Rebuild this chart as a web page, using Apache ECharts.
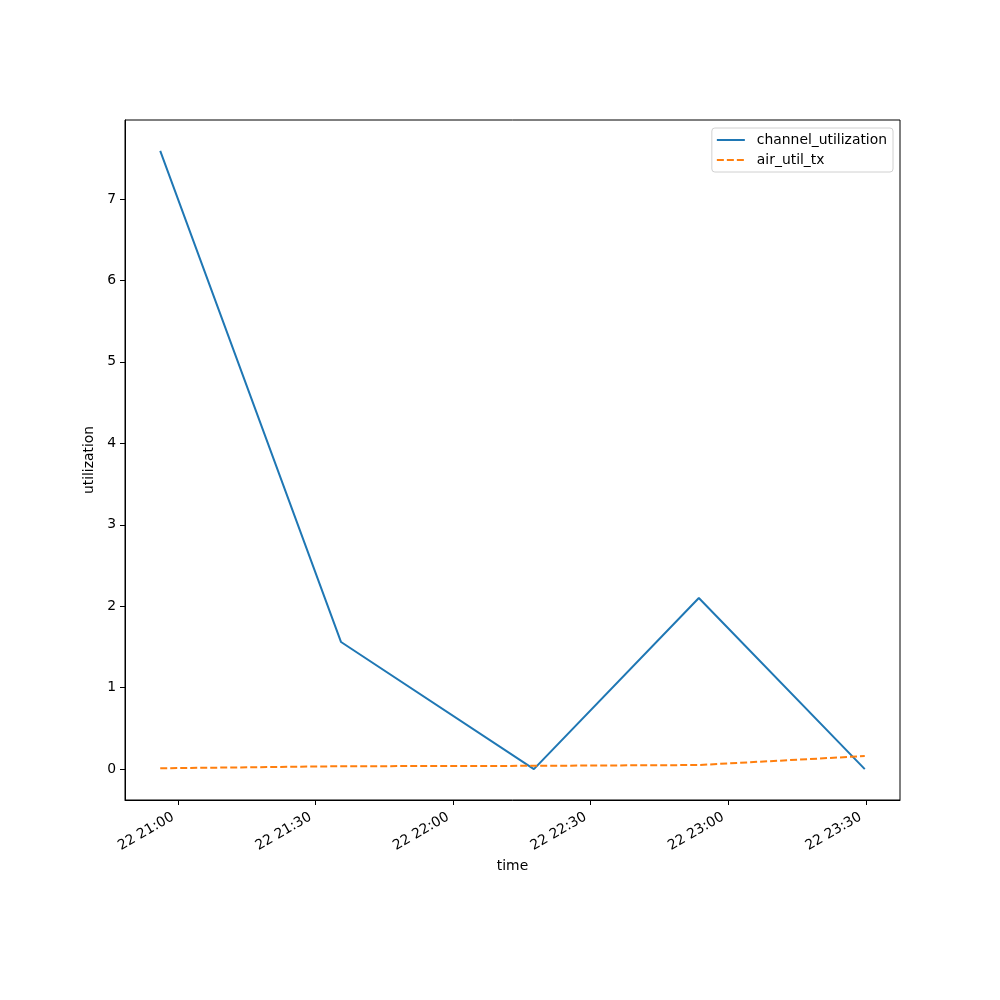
<!DOCTYPE html>
<html>
<head>
<meta charset="utf-8">
<script src="https://cdn.jsdelivr.net/npm/echarts@6/dist/echarts.min.js"></script>
<style>html,body{margin:0;padding:0;background:#fff}#c{width:1000px;height:1000px}</style>
</head>
<body>
<div id="c"></div>
<script>
const times = ['2024-01-22T20:56:05Z','2024-01-22T21:35:32Z','2024-01-22T22:17:36Z','2024-01-22T22:53:35Z','2024-01-22T23:29:47Z'];
const channelUtilization = [7.59, 1.56, 0.0, 2.10, 0.0];
const airUtilTx = [0.01, 0.035, 0.04, 0.05, 0.16];
const yTicks = [0, 1, 2, 3, 4, 5, 6, 7];
const xTicks = ['2024-01-22T21:00:00Z','2024-01-22T21:30:00Z','2024-01-22T22:00:00Z','2024-01-22T22:30:00Z','2024-01-22T23:00:00Z','2024-01-22T23:30:00Z'];

const tMs = times.map(t => Date.parse(t));
const tSpan = tMs[tMs.length-1] - tMs[0];
const xMin = tMs[0] - tSpan*0.05, xMax = tMs[tMs.length-1] + tSpan*0.05;
const allY = channelUtilization.concat(airUtilTx);
const yLo = Math.min(...allY), yHi = Math.max(...allY);
const ySpan = yHi - yLo;
const yMin = yLo - ySpan*0.05, yMax = yHi + ySpan*0.05;

const font = 'DejaVu Sans';
const pad = n => String(n).padStart(2,'0');
const chart = echarts.init(document.getElementById('c'), null, {renderer:'canvas'});
chart.setOption({
  animation: false,
  backgroundColor: '#fff',
  textStyle: {fontFamily: font},
  grid: {left:125, right:100, top:120, bottom:200, show:true, borderColor:'#000', borderWidth:1, backgroundColor:'transparent'},
  legend: {
    right: 107, top: 128, orient: 'vertical',
    backgroundColor:'#fff', borderColor:'#d0d0d0', borderWidth:1, borderRadius:3,
    padding:[5,6,5,4], itemGap: 6, itemWidth: 28, itemHeight: 14,
    itemStyle: {opacity: 0, color: 'transparent', borderWidth: 0},
    textStyle: {fontFamily: font, fontSize: 13.9, color:'#000', padding:[0,0,0,7]},
    data: [{name:'channel_utilization'},{name:'air_util_tx'}]
  },
  xAxis: {
    type: 'value', min: xMin, max: xMax,
    name: 'time', nameLocation: 'middle', nameGap: 58,
    nameTextStyle: {fontFamily: font, fontSize: 13.9, color:'#000'},
    axisLine: {show:true, onZero:false, lineStyle:{color:'#000', width:1}},
    axisTick: {show:true, length:5, lineStyle:{color:'#000'}, customValues: xTicks.map(t=>Date.parse(t))},
    axisLabel: {show:true, rotate:30, margin:13, padding:[0,6,0,0], fontFamily: font, fontSize: 13.9, color:'#000',
      customValues: xTicks.map(t=>Date.parse(t)),
      formatter: v => { const d = new Date(v); return pad(d.getUTCDate())+' '+pad(d.getUTCHours())+':'+pad(d.getUTCMinutes()); }},
    splitLine: {show:false}
  },
  yAxis: {
    type: 'value', min: yMin, max: yMax,
    name: 'utilization', nameLocation: 'middle', nameGap: 21,
    nameTextStyle: {fontFamily: font, fontSize: 13.9, color:'#000'},
    axisLine: {show:true, onZero:false, lineStyle:{color:'#000', width:1}},
    axisTick: {show:true, length:5, lineStyle:{color:'#000'}, customValues: yTicks},
    axisLabel: {show:true, margin:9, fontFamily: font, fontSize: 13.9, color:'#000', customValues: yTicks},
    splitLine: {show:false}
  },
  series: [
    {name:'channel_utilization', type:'line', symbol:'none', showSymbol:false,
     lineStyle:{color:'#1f77b4', width:2}, itemStyle:{color:'#1f77b4'},
     data: tMs.map((t,i)=>[t, channelUtilization[i]])},
    {name:'air_util_tx', type:'line', symbol:'none', showSymbol:false,
     lineStyle:{color:'#ff7f0e', width:2, type:[7,3]}, itemStyle:{color:'#ff7f0e'},
     data: tMs.map((t,i)=>[t, airUtilTx[i]])}
  ]
});
</script>
</body>
</html>
